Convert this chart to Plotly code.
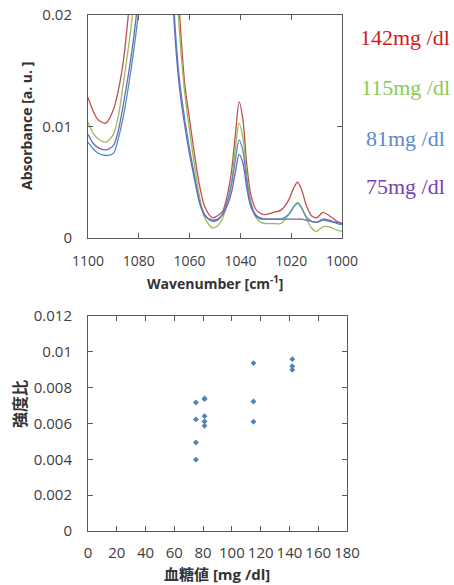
import plotly.graph_objects as go

# --- spectra (top panel) ---
wavenumber = [1100, 1098, 1096, 1093, 1090, 1088, 1086, 1084, 1082, 1080,
              1076, 1072, 1068, 1066, 1064, 1062, 1060, 1058, 1056, 1054,
              1051, 1049, 1047, 1045, 1043.5, 1042, 1040.5, 1039, 1037.5, 1036,
              1034, 1032, 1030, 1027, 1024, 1021, 1019, 1017.5, 1016, 1014,
              1012, 1010, 1007.5, 1005, 1002, 1000]

abs_142 = [0.0126, 0.0114, 0.0106, 0.0103, 0.0115, 0.0133, 0.0160, 0.0203, 0.0250, 0.0300,
           0.0380, 0.0400, 0.0360, 0.0280, 0.0203, 0.0140, 0.0106, 0.0074, 0.0046, 0.0028,
           0.0018, 0.0020, 0.0024, 0.0040, 0.0060, 0.0092, 0.0122, 0.0106, 0.0066, 0.0040,
           0.0026, 0.0022, 0.0021, 0.0023, 0.0025, 0.0034, 0.0045, 0.0050, 0.0044, 0.0029,
           0.0020, 0.0018, 0.0023, 0.0020, 0.0015, 0.0013]

abs_115 = [0.0104, 0.0094, 0.0089, 0.0086, 0.0093, 0.0110, 0.0140, 0.0172, 0.0210, 0.0260,
           0.0350, 0.0380, 0.0340, 0.0260, 0.0185, 0.0132, 0.0096, 0.0064, 0.0036, 0.0018,
           0.0009, 0.0011, 0.0018, 0.0033, 0.0050, 0.0080, 0.0103, 0.0090, 0.0057, 0.0033,
           0.0019, 0.0014, 0.0013, 0.0013, 0.0013, 0.0021, 0.0028, 0.0032, 0.0028, 0.0017,
           0.0009, 0.0006, 0.0010, 0.0010, 0.0007, 0.0006]

abs_81 = [0.0086, 0.0080, 0.0076, 0.0074, 0.0076, 0.0090, 0.0110, 0.0137, 0.0168, 0.0205,
          0.0300, 0.0360, 0.0300, 0.0200, 0.0142, 0.0108, 0.0080, 0.0055, 0.0032, 0.0021,
          0.0015, 0.0016, 0.0022, 0.0034, 0.0048, 0.0070, 0.0088, 0.0078, 0.0051, 0.0032,
          0.0021, 0.0018, 0.0017, 0.0017, 0.0017, 0.0021, 0.0028, 0.0031, 0.0027, 0.0019,
          0.0015, 0.0014, 0.0017, 0.0016, 0.0013, 0.0012]

abs_75 = [0.0093, 0.0085, 0.0081, 0.0079, 0.0083, 0.0097, 0.0121, 0.0148, 0.0180, 0.0220,
          0.0310, 0.0360, 0.0290, 0.0190, 0.0135, 0.0102, 0.0075, 0.0052, 0.0031, 0.0020,
          0.0016, 0.0017, 0.0021, 0.0030, 0.0041, 0.0059, 0.0075, 0.0067, 0.0045, 0.0029,
          0.0020, 0.0017, 0.0017, 0.0017, 0.0017, 0.0017, 0.0017, 0.0017, 0.0017, 0.0016,
          0.0015, 0.0014, 0.0016, 0.0015, 0.0014, 0.0013]

spectra_labels = ["142mg /dl", "115mg /dl", "81mg /dl", "75mg /dl"]

# --- intensity ratio vs blood glucose (bottom panel) ---
glucose = [75, 75, 75, 75, 81, 81, 81, 81, 81, 115, 115, 115, 142, 142, 142]
ratio = [0.00717, 0.00623, 0.00494, 0.00398,
         0.00740, 0.00736, 0.00641, 0.00611, 0.00587,
         0.00937, 0.00723, 0.00610,
         0.00959, 0.00920, 0.00900]

W, H = 454, 585
font = "Open Sans, Noto Sans CJK JP, sans-serif"
axis_col = "#5a5a5a"
txt_col = "#404040"

line_cols = ["#C0504D", "#9BBB59", "#4A8FC4", "#6F68B2"]
label_cols = ["#D01C1C", "#8CCB55", "#5A8AD0", "#7A3FB0"]

fig = go.Figure()
for vals, col in zip([abs_142, abs_115, abs_81, abs_75], line_cols):
    fig.add_trace(go.Scatter(x=wavenumber, y=vals, mode="lines",
                             line=dict(color=col, width=1.3, shape="spline", smoothing=0.8),
                             xaxis="x", yaxis="y", showlegend=False, hoverinfo="skip"))

fig.add_trace(go.Scatter(x=glucose, y=ratio, mode="markers",
                         marker=dict(symbol="diamond", size=4.5, color="#4F81BD"),
                         xaxis="x2", yaxis="y2", showlegend=False))

common = dict(showline=True, linecolor=axis_col, linewidth=1, mirror="ticks",
              ticks="inside", ticklen=5, tickcolor=axis_col, showgrid=False,
              zeroline=False, automargin=False, tickangle=0)

fig.update_layout(
    width=W, height=H,
    margin=dict(l=0, r=0, t=0, b=0),
    paper_bgcolor="white", plot_bgcolor="white",
    font=dict(family=font, color=txt_col),
    xaxis=dict(domain=[88 / W, 342 / W], anchor="y", range=[1100, 1000],
               tickvals=[1100, 1080, 1060, 1040, 1020, 1000],
               tickfont=dict(size=14), ticklabelstandoff=10, **common),
    yaxis=dict(domain=[1 - 238 / H, 1 - 15 / H], anchor="x", range=[0, 0.02],
               tickvals=[0, 0.01, 0.02], ticktext=["0", "0.01", "0.02"],
               tickfont=dict(size=15), ticklabelstandoff=12, **common),
    xaxis2=dict(domain=[88 / W, 347 / W], anchor="y2", range=[0, 180],
                tickvals=list(range(0, 181, 20)),
                tickfont=dict(size=15), ticklabelstandoff=8, **common),
    yaxis2=dict(domain=[1 - 531 / H, 1 - 316 / H], anchor="x2", range=[0, 0.012],
                tickvals=[0, 0.002, 0.004, 0.006, 0.008, 0.01, 0.012],
                ticktext=["0", "0.002", "0.004", "0.006", "0.008", "0.01", "0.012"],
                tickfont=dict(size=15), ticklabelstandoff=12, **common),
)

def px(x, y):
    return x / W, 1 - y / H

annos = []
for (lbl, col, yc) in zip(spectra_labels, label_cols, [37, 87, 138, 187]):
    xa, ya = px(405, yc)
    annos.append(dict(text=lbl, x=xa, y=ya, xref="paper", yref="paper",
                      showarrow=False, xanchor="center", yanchor="middle",
                      font=dict(family="Liberation Serif, DejaVu Serif, serif", size=22, color=col)))

titles = [
    ("<b>Absorbance [a. u. ]</b>", 26, 126, -90, 14),
    ("<b>Wavenumber [cm<sup>-1</sup>]</b>", 215, 283, 0, 14),
    ("<b>強度比</b>", 20, 404, -90, 16),
    ("<b>血糖値 [mg /dl]</b>", 217, 574, 0, 15),
]
for text, x, y, ang, size in titles:
    xa, ya = px(x, y)
    annos.append(dict(text=text, x=xa, y=ya, xref="paper", yref="paper",
                      showarrow=False, xanchor="center", yanchor="middle",
                      textangle=ang, font=dict(family=font, size=size, color="#333333")))

fig.update_layout(annotations=annos)

# page body has a default 8px margin; drop it so the figure sits at the window corner
fig.write_html("out.html", config={"displayModeBar": False},
               post_script="document.body.style.margin='0';")
